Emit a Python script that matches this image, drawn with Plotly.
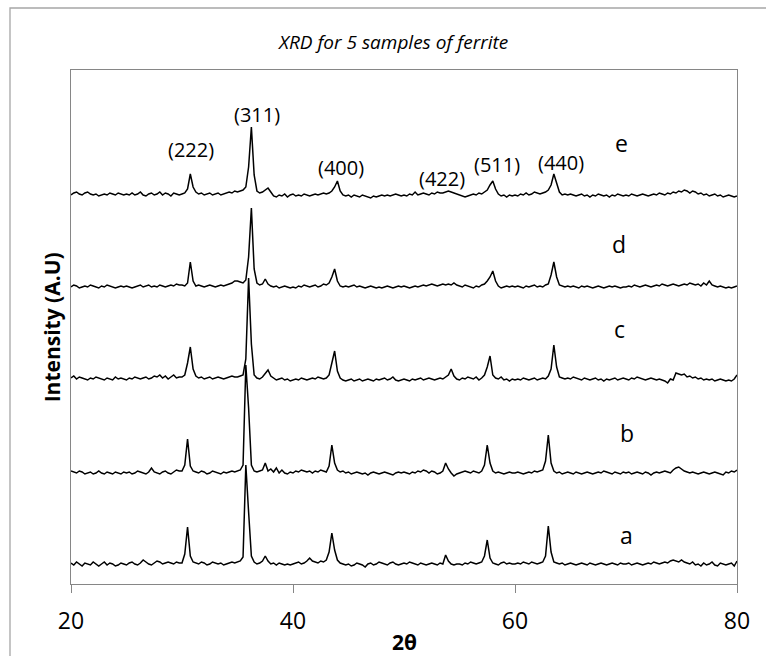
import numpy as np
import plotly.graph_objects as go

# 2-theta sampling grid (degrees), 0.25 deg step
two_theta = np.round(np.arange(20.0, 80.001, 0.25), 2)

# Intensity (arbitrary units), one value per grid step
int_a = [
    11, 9, 12, 10, 8, 11, 10, 9, 12, 10, 8, 10, 12, 9, 11, 10, 8, 9, 11, 10,
    9, 11, 12, 10, 9, 11, 14, 12, 10, 9, 11, 13, 12, 10, 11, 12, 11, 10, 12, 11,
    11, 20, 47, 18, 12, 11, 10, 12, 11, 9, 10, 12, 11, 10, 11, 9, 10, 11, 12, 11,
    12, 13, 17, 109, 62, 18, 12, 10, 11, 13, 18, 13, 10, 11, 9, 11, 10, 9, 10, 9,
    10, 11, 12, 10, 11, 13, 16, 13, 12, 11, 13, 12, 14, 22, 41, 24, 14, 11, 10, 9,
    10, 8, 9, 11, 10, 9, 7, 10, 11, 9, 10, 12, 11, 10, 9, 11, 12, 10, 9, 10,
    11, 10, 12, 11, 10, 9, 11, 10, 9, 10, 11, 10, 9, 11, 10, 19, 13, 10, 9, 10,
    10, 9, 11, 10, 12, 11, 10, 11, 12, 18, 34, 16, 11, 10, 9, 11, 12, 10, 11, 10,
    10, 11, 10, 12, 11, 10, 12, 11, 10, 11, 12, 18, 48, 22, 12, 11, 10, 11, 9, 10,
    11, 10, 9, 10, 11, 10, 9, 11, 10, 9, 10, 11, 10, 9, 10, 11, 10, 9, 11, 10,
    10, 11, 9, 10, 11, 10, 9, 10, 11, 10, 12, 11, 10, 11, 12, 11, 13, 14, 13, 12,
    14, 12, 11, 10, 12, 9, 10, 8, 11, 9, 10, 12, 9, 8, 11, 10, 9, 10, 11, 8,
    13,
]
int_b = [
    12, 11, 10, 12, 11, 9, 10, 11, 9, 10, 12, 10, 9, 11, 10, 9, 11, 10, 9, 11,
    10, 11, 9, 10, 12, 11, 10, 9, 11, 15, 11, 10, 9, 11, 12, 10, 9, 11, 13, 12,
    12, 18, 44, 17, 12, 11, 10, 12, 11, 9, 10, 12, 11, 10, 9, 11, 10, 11, 12, 11,
    12, 13, 18, 118, 75, 18, 12, 11, 12, 13, 20, 12, 14, 11, 15, 10, 13, 10, 9, 11,
    10, 12, 11, 13, 12, 11, 12, 10, 12, 11, 13, 12, 11, 17, 38, 20, 13, 11, 12, 10,
    11, 9, 10, 11, 10, 9, 10, 8, 10, 11, 10, 9, 10, 11, 10, 9, 8, 10, 11, 10,
    11, 10, 9, 11, 10, 12, 11, 13, 12, 10, 12, 11, 9, 10, 12, 20, 14, 10, 7, 9,
    10, 11, 12, 11, 10, 12, 11, 10, 12, 18, 38, 20, 12, 10, 11, 10, 9, 10, 11, 10,
    10, 11, 10, 9, 10, 11, 10, 12, 11, 12, 13, 22, 48, 20, 12, 10, 11, 9, 10, 11,
    10, 9, 11, 10, 9, 10, 11, 10, 9, 10, 11, 10, 12, 11, 10, 9, 11, 10, 9, 11,
    10, 11, 9, 10, 11, 10, 9, 11, 10, 8, 10, 11, 10, 11, 12, 11, 10, 13, 15, 16,
    14, 12, 11, 10, 11, 10, 9, 10, 11, 10, 9, 10, 11, 10, 9, 8, 11, 10, 12, 11,
    13,
]
int_c = [
    11, 13, 10, 12, 11, 10, 9, 11, 10, 12, 11, 10, 9, 11, 10, 9, 12, 10, 11, 10,
    9, 11, 10, 12, 11, 10, 11, 12, 10, 11, 13, 12, 14, 11, 13, 10, 12, 14, 11, 12,
    12, 14, 26, 42, 20, 13, 11, 12, 10, 11, 12, 10, 11, 12, 11, 10, 11, 12, 13, 12,
    12, 13, 14, 30, 111, 45, 14, 11, 10, 12, 15, 19, 13, 11, 9, 10, 11, 9, 10, 8,
    9, 10, 9, 11, 10, 9, 10, 11, 10, 12, 11, 10, 11, 14, 26, 38, 18, 11, 9, 8,
    9, 10, 8, 9, 10, 8, 9, 10, 9, 8, 10, 9, 10, 11, 9, 10, 12, 9, 8, 9,
    10, 9, 8, 10, 9, 10, 11, 9, 10, 11, 10, 9, 10, 11, 10, 12, 14, 20, 13, 10,
    9, 11, 10, 12, 11, 10, 12, 9, 11, 14, 22, 33, 14, 11, 10, 12, 9, 10, 8, 10,
    9, 10, 9, 11, 10, 9, 10, 11, 9, 10, 11, 10, 13, 20, 44, 22, 12, 11, 10, 11,
    10, 12, 11, 10, 9, 11, 10, 9, 10, 11, 9, 10, 8, 10, 9, 10, 11, 9, 10, 11,
    10, 9, 11, 10, 12, 11, 10, 9, 10, 11, 10, 9, 10, 9, 8, 6, 10, 9, 16, 15,
    14, 15, 12, 13, 11, 12, 10, 11, 9, 10, 9, 10, 8, 9, 10, 9, 8, 9, 8, 10,
    14,
]
int_d = [
    10, 12, 11, 9, 10, 11, 10, 12, 11, 10, 9, 11, 10, 12, 11, 10, 9, 10, 11, 10,
    11, 10, 9, 10, 11, 12, 10, 11, 12, 10, 11, 10, 12, 11, 10, 11, 12, 11, 13, 12,
    12, 11, 14, 35, 16, 11, 12, 11, 10, 11, 12, 11, 10, 11, 12, 11, 12, 13, 14, 16,
    16, 15, 14, 17, 40, 89, 28, 14, 12, 13, 18, 13, 11, 10, 11, 9, 10, 11, 10, 9,
    10, 9, 11, 10, 12, 11, 10, 11, 12, 10, 11, 13, 12, 14, 20, 28, 16, 11, 10, 11,
    10, 11, 12, 10, 11, 10, 9, 10, 11, 10, 9, 10, 9, 10, 11, 10, 9, 10, 11, 10,
    11, 10, 9, 10, 11, 10, 11, 12, 11, 12, 13, 12, 11, 12, 13, 12, 13, 12, 14, 12,
    11, 10, 12, 11, 10, 9, 11, 10, 12, 13, 16, 20, 26, 16, 11, 9, 10, 11, 10, 11,
    10, 11, 10, 9, 11, 10, 11, 12, 10, 11, 10, 12, 13, 22, 35, 20, 12, 11, 10, 11,
    10, 11, 10, 9, 11, 10, 11, 10, 9, 10, 11, 10, 9, 10, 11, 10, 11, 10, 9, 10,
    10, 11, 10, 12, 11, 10, 11, 12, 11, 10, 11, 12, 11, 13, 12, 11, 12, 13, 12, 11,
    12, 13, 12, 14, 13, 12, 13, 11, 14, 12, 16, 12, 11, 10, 11, 10, 9, 10, 9, 10,
    11,
]
int_e = [
    10, 12, 13, 11, 10, 12, 13, 11, 10, 11, 9, 10, 11, 10, 12, 11, 10, 12, 11, 10,
    11, 10, 12, 10, 11, 13, 10, 9, 11, 12, 10, 11, 13, 10, 12, 11, 9, 12, 11, 10,
    11, 12, 16, 31, 18, 13, 11, 12, 10, 11, 12, 10, 11, 12, 10, 11, 12, 13, 12, 14,
    13, 14, 15, 18, 38, 78, 30, 14, 12, 13, 15, 17, 13, 9, 8, 10, 9, 11, 8, 10,
    11, 9, 10, 9, 11, 10, 9, 10, 11, 10, 11, 12, 11, 12, 14, 18, 24, 14, 10, 9,
    10, 8, 10, 9, 8, 10, 9, 8, 7, 9, 8, 9, 10, 9, 10, 9, 10, 11, 10, 9,
    10, 9, 11, 10, 13, 10, 11, 12, 11, 10, 12, 11, 13, 12, 12, 13, 14, 13, 12, 11,
    10, 9, 8, 9, 10, 11, 10, 12, 11, 13, 15, 20, 24, 16, 11, 9, 10, 8, 10, 9,
    10, 9, 11, 10, 12, 10, 11, 13, 12, 11, 12, 13, 15, 20, 31, 22, 13, 10, 11, 10,
    11, 10, 9, 10, 11, 9, 10, 8, 10, 9, 11, 10, 9, 10, 8, 10, 9, 11, 10, 9,
    10, 9, 11, 10, 9, 10, 11, 10, 9, 10, 11, 10, 12, 11, 10, 12, 11, 13, 12, 14,
    13, 15, 14, 12, 14, 13, 11, 12, 10, 11, 9, 10, 11, 9, 10, 8, 9, 10, 9, 8,
    9,
]

sample_names = ["a", "b", "c", "d", "e"]
sample_offsets = [10, 101, 195, 287, 379]
sample_label_x = [70.0, 70.1, 69.45, 69.4, 69.55]
sample_label_y = [49, 151, 255, 340, 441]

peak_labels = ["(222)", "(311)", "(400)", "(422)", "(511)", "(440)"]
peak_label_x = [30.8, 36.76, 44.32, 53.42, 58.38, 64.14]
peak_label_y = [435, 470, 417, 406, 420, 422]

x_ticks = [20, 40, 60, 80]

FONT = "Open Sans"
FRAME = "#868686"

fig = go.Figure()
for name, vals, off in zip(sample_names, [int_a, int_b, int_c, int_d, int_e], sample_offsets):
    fig.add_trace(go.Scatter(
        x=two_theta, y=np.array(vals) + off, mode="lines", name=name,
        line=dict(color="black", width=1.5), hoverinfo="skip", showlegend=False,
    ))

annotations = []
for t, x, y in zip(peak_labels, peak_label_x, peak_label_y):
    annotations.append(dict(x=x, y=y, xref="x", yref="y", text=t, showarrow=False,
                            font=dict(family=FONT, size=20, color="black"),
                            xanchor="center", yanchor="middle"))
for t, x, y in zip(sample_names, sample_label_x, sample_label_y):
    annotations.append(dict(x=x, y=y, xref="x", yref="y", text=t, showarrow=False,
                            font=dict(family=FONT, size=23, color="black"),
                            xanchor="center", yanchor="middle"))
annotations.append(dict(x=0.5, y=-0.113, xref="paper", yref="paper", text="<b>2θ</b>",
                        showarrow=False, font=dict(family=FONT, size=21, color="black"),
                        xanchor="center", yanchor="middle"))
annotations.append(dict(x=-0.028, y=0.5, xref="paper", yref="paper",
                        text="<b>Intensity (A.U)</b>", textangle=-90, showarrow=False,
                        font=dict(family=FONT, size=21, color="black"),
                        xanchor="center", yanchor="middle"))
annotations.append(dict(x=(392.5 - 71) / 666, y=(584 - 42) / 514, xref="paper", yref="paper",
                        text="<i>XRD for 5 samples of ferrite</i>", showarrow=False,
                        font=dict(family=FONT, size=19, color="black"),
                        xanchor="center", yanchor="middle"))

fig.update_layout(
    width=766, height=656,
    margin=dict(l=71, r=29, t=70, b=72, autoexpand=False),
    paper_bgcolor="white", plot_bgcolor="white",
    annotations=annotations,
    shapes=[dict(type="rect", xref="paper", yref="paper",
                 x0=(10 - 71) / 666, x1=(780 - 71) / 666,
                 y0=(584 - 670) / 514, y1=(584 - 8) / 514,
                 line=dict(color="#a6a6a6", width=1.3), layer="below")],
    xaxis=dict(range=[20, 80], tickvals=x_ticks, ticks="outside", ticklen=8,
               tickcolor=FRAME, tickwidth=1.3, showline=True, mirror=True,
               linecolor=FRAME, linewidth=1.3, showgrid=False, zeroline=False,
               ticklabelstandoff=8,
               tickfont=dict(family=FONT, size=23, color="black")),
    yaxis=dict(range=[0, 514], showticklabels=False, ticks="", showline=True,
               mirror=True, linecolor=FRAME, linewidth=1.3, showgrid=False,
               zeroline=False),
)

fig.write_html(
    "out.html",
    config={"displayModeBar": False},
    post_script="document.body.style.margin='0';document.body.style.overflow='hidden';",
)
